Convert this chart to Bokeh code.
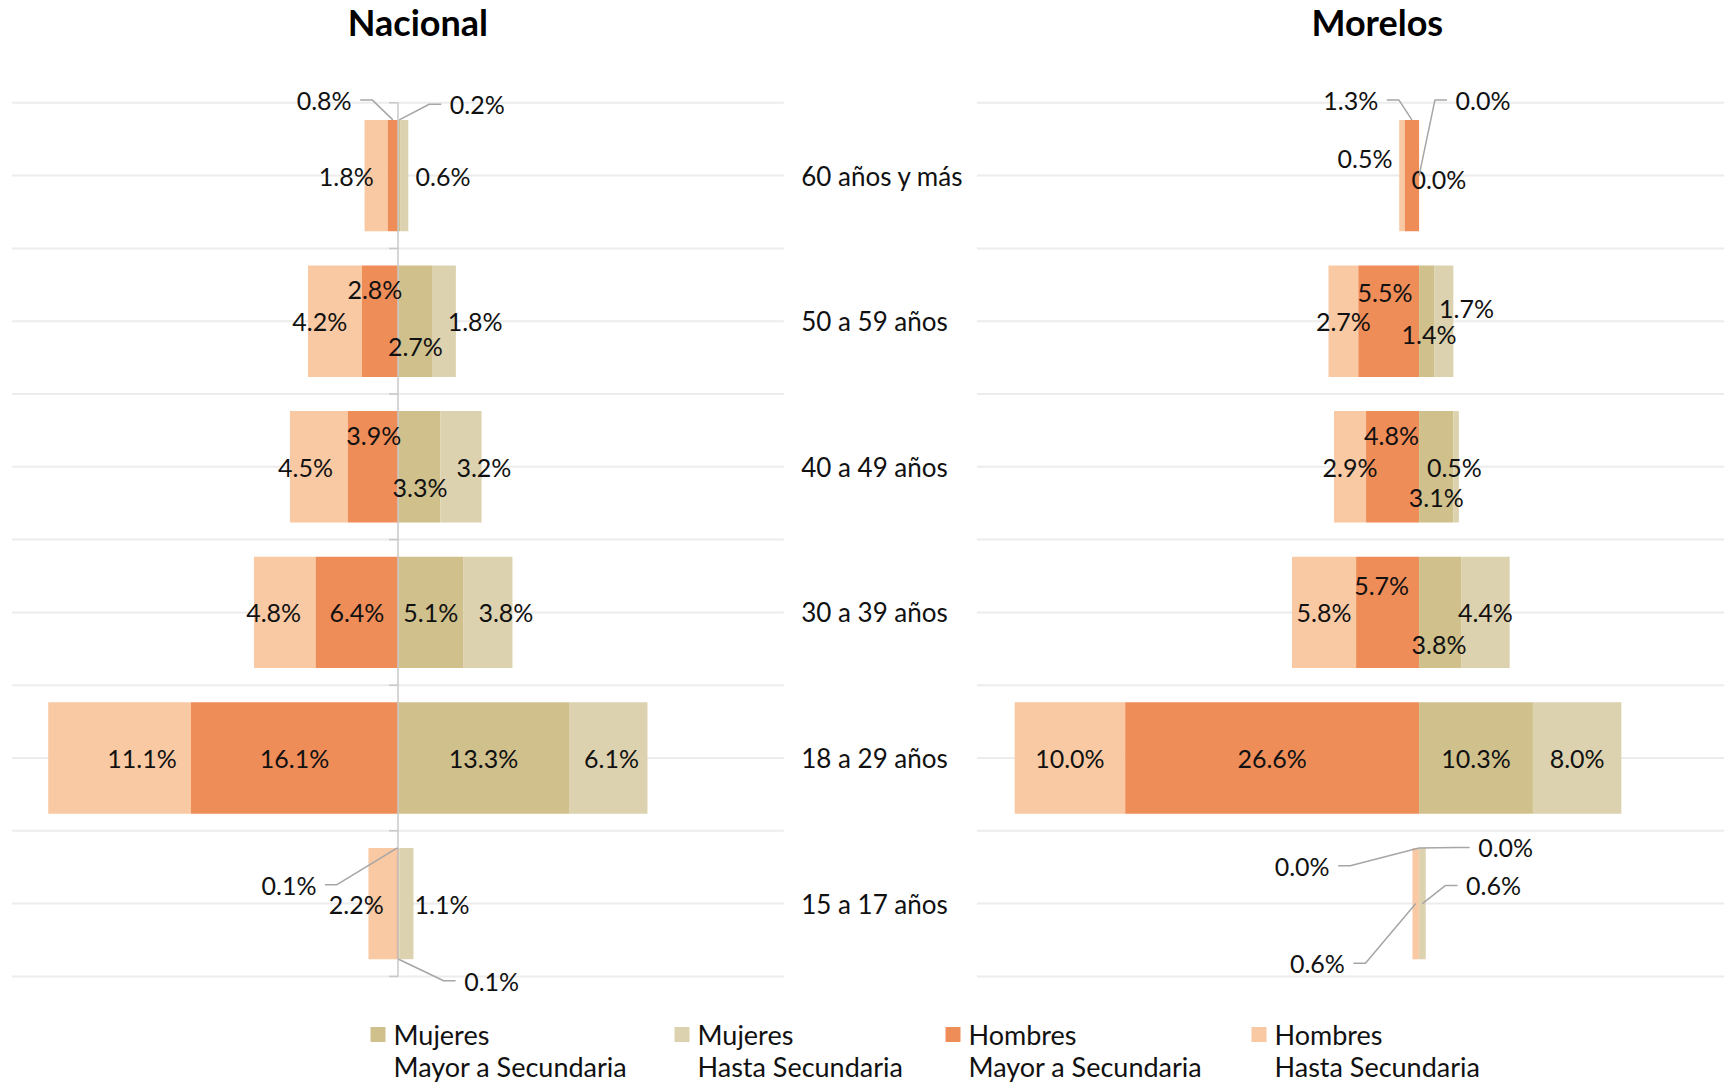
import numpy as np
from bokeh.plotting import figure
from bokeh.models import Range1d, ColumnDataSource
from bokeh.embed import file_html
from bokeh.resources import INLINE
from bokeh.core.properties import value

# ---------------- data ----------------
categories = ["15 a 17 años", "18 a 29 años", "30 a 39 años",
              "40 a 49 años", "50 a 59 años", "60 años y más"]

nac_hombres_hasta = [2.2, 11.1, 4.8, 4.5, 4.2, 1.8]
nac_hombres_mayor = [0.1, 16.1, 6.4, 3.9, 2.8, 0.8]
nac_mujeres_mayor = [0.1, 13.3, 5.1, 3.3, 2.7, 0.2]
nac_mujeres_hasta = [1.1, 6.1, 3.8, 3.2, 1.8, 0.6]

mor_hombres_hasta = [0.6, 10.0, 5.8, 2.9, 2.7, 0.5]
mor_hombres_mayor = [0.0, 26.6, 5.7, 4.8, 5.5, 1.3]
mor_mujeres_mayor = [0.0, 10.3, 3.8, 3.1, 1.4, 0.0]
mor_mujeres_hasta = [0.6, 8.0, 4.4, 0.5, 1.7, 0.0]

panel_titles = {"nac": "Nacional", "mor": "Morelos"}
legend_keys = ["mm", "mh", "hm", "hh"]
legend_line1 = ["Mujeres", "Mujeres", "Hombres", "Hombres"]
legend_line2 = ["Mayor a Secundaria", "Hasta Secundaria",
                "Mayor a Secundaria", "Hasta Secundaria"]

# ---------------- layout / style ----------------
W, H = 1724, 1084
NAC_PX = 12.86     # px per percentage point (Nacional)
MOR_PX = 11.05     # px per percentage point (Morelos)
CAT_PX = 145.6     # px per category band
NAC_ZERO = 397.5   # frame x of Nacional zero
MOR_ZERO = 1418.6  # frame x of Morelos zero
TOP_Y = 175.1      # frame y of top category centre
BAR_H = 0.765

COLORS = {"hh": "#F9C9A4", "hm": "#EF8D59", "mm": "#CFC08C", "mh": "#DDD2AF"}
FONT = "Lato"
TXT = "#111111"

# legend placement (frame pixels)
LEG_X = [370, 674, 945, 1251]
LEG_Y1, LEG_Y2 = 1034, 1066
LEG_SQ = 15
LEG_TXT_DX = 23

# label shifts (dx in percentage points, dy in category bands), bottom -> top
LABEL_SHIFT = {
    ("nac", "hh"): ([-2.05, 1.75, -0.87, -1.04, -1.18, -2.32], [0, 0, 0, 0, 0, 0]),
    ("nac", "hm"): ([-8.43, 0, 0, 0.07, -0.4, -5.34], [0.13, 0, 0, 0.22, 0.22, 0.52]),
    ("nac", "mm"): ([7.23, 0, 0, 0.06, 0, 6.06], [-0.53, 0, 0, -0.14, -0.17, 0.49]),
    ("nac", "mh"): ([2.77, 0.25, 1.39, 1.78, 2.4, 3.0], [0, 0, 0, 0, 0, 0]),
    ("mor", "hh"): ([-8.9, 0, 0, 0, 0, -3.34], [-0.41, 0, 0, 0, 0, 0.12]),
    ("mor", "hm"): ([-10.58, 0, -0.54, -0.1, -0.34, -5.53], [0.26, 0, 0.19, 0.22, 0.2, 0.52]),
    ("mor", "mm"): ([7.83, 0, -0.1, 0, 0.2, 5.78], [0.386, 0, -0.22, -0.21, -0.09, 0.52]),
    ("mor", "mh"): ([6.44, 0, 0, -0.16, 2.04, 1.79], [0.125, 0, 0, 0, 0.09, -0.02]),
}
LEADERS = [("nac", "hm", 5, "top"), ("nac", "mm", 5, "top"),
           ("nac", "hm", 0, "top"), ("nac", "mm", 0, "bottom"),
           ("mor", "hm", 5, "top"), ("mor", "mm", 5, "mid"),
           ("mor", "hm", 0, "top"), ("mor", "mm", 0, "top"),
           ("mor", "mh", 0, "mid"), ("mor", "hh", 0, "mid")]

y_start = 5 - (H - TOP_Y) / CAT_PX
y_end = 5 + TOP_Y / CAT_PX

p = figure(width=W, height=H, output_backend="svg", toolbar_location=None,
           x_range=Range1d(-NAC_ZERO / NAC_PX, (W - NAC_ZERO) / NAC_PX),
           y_range=Range1d(y_start, y_end),
           x_axis_location=None, y_axis_location=None,
           min_border=0, outline_line_color=None, title=None)
p.extra_x_ranges = {"mor": Range1d(-MOR_ZERO / MOR_PX, (W - MOR_ZERO) / MOR_PX),
                    "px": Range1d(0, W)}
p.extra_y_ranges = {"px": Range1d(H, 0)}
p.grid.visible = False

y_idx = np.arange(len(categories), dtype=float)
grid_y = np.arange(-0.5, len(categories) - 0.5 + 0.01, 0.5)

panels = {
    "nac": dict(hh=nac_hombres_hasta, hm=nac_hombres_mayor, mm=nac_mujeres_mayor,
                mh=nac_mujeres_hasta, rng="default", px=NAC_PX, grid=(-30, 30)),
    "mor": dict(hh=mor_hombres_hasta, hm=mor_hombres_mayor, mm=mor_mujeres_mayor,
                mh=mor_mujeres_hasta, rng="mor", px=MOR_PX, grid=(-40, 30)),
}

for pk, d in panels.items():
    rng = d["rng"]
    g0, g1 = d["grid"]
    p.segment(x0=[g0] * len(grid_y), x1=[g1] * len(grid_y), y0=grid_y, y1=grid_y,
              line_color="#ECECEC", line_width=2, x_range_name=rng)
    hh, hm, mm, mh = (np.array(d[k], dtype=float) for k in ("hh", "hm", "mm", "mh"))
    segs = {"hh": (-(hm + hh), -hm), "hm": (-hm, 0 * hm),
            "mm": (0 * mm, mm), "mh": (mm, mm + mh)}
    vals = {"hh": hh, "hm": hm, "mm": mm, "mh": mh}
    centers = {}
    for key, (l, r) in segs.items():
        src = ColumnDataSource(dict(y=y_idx, left=l, right=r))
        p.hbar(y="y", left="left", right="right", height=BAR_H, source=src,
               fill_color=COLORS[key], line_color=None, x_range_name=rng)
        centers[key] = (l + r) / 2
    if pk == "nac":
        p.segment(x0=[0], x1=[0], y0=[-0.5], y1=[len(categories) - 0.5],
                  line_color="#C8C8C8", line_width=1.5, x_range_name=rng)
        by = np.arange(-0.5, len(categories) - 0.5 + 0.01, 1.0)
        p.segment(x0=[-9 / d["px"]] * len(by), x1=[0] * len(by), y0=by, y1=by,
                  line_color="#C8C8C8", line_width=1.5, x_range_name=rng)
    lab = {}
    for key in ("hh", "hm", "mm", "mh"):
        dx, dy = LABEL_SHIFT[(pk, key)]
        lx = centers[key] + np.array(dx)
        ly = y_idx + np.array(dy)
        txt = [f"{v:.1f}%" for v in vals[key]]
        p.text(x=lx, y=ly, text=txt, text_align="center", text_baseline="middle",
               text_font=value(FONT), text_font_size="25px", text_color=TXT,
               x_range_name=rng)
        lab[key] = (lx, ly)
    d["lab"] = lab
    d["centers"] = centers

# leader lines
for pk, key, i, anchor in LEADERS:
    d = panels[pk]
    px = d["px"]
    ax = d["centers"][key][i]
    ay = i + {"top": BAR_H / 2, "mid": 0.0, "bottom": -BAR_H / 2}[anchor]
    lx = d["lab"][key][0][i]
    ly = d["lab"][key][1][i]
    sgn = 1 if lx < ax else -1
    end_x = lx + sgn * 36 / px
    elb_x = end_x + sgn * 12 / px
    p.line(x=[ax, elb_x, end_x], y=[ay, ly, ly], line_color="#A6A6A6", line_width=1.5,
           x_range_name=d["rng"])

# category labels in the middle
p.text(x=[31.35] * len(categories), y=y_idx, text=categories, text_align="left",
       text_baseline="middle", text_font=value(FONT), text_font_size="26px",
       text_color=TXT)

# panel titles
p.text(x=[1.55], y=[6.052], text=[panel_titles["nac"]], text_align="center",
       text_baseline="middle", text_font=value(FONT), text_font_size="36px",
       text_font_style="bold", text_color="#000000")
p.text(x=[-3.78], y=[6.052], text=[panel_titles["mor"]], text_align="center",
       text_baseline="middle", text_font=value(FONT), text_font_size="36px",
       text_font_style="bold", text_color="#000000", x_range_name="mor")

# legend (swatches + two-line labels)
lx = np.array(LEG_X, dtype=float)
p.rect(x=lx + LEG_SQ / 2, y=[LEG_Y1] * 4, width=LEG_SQ, height=LEG_SQ,
       fill_color=[COLORS[k] for k in legend_keys], line_color=None,
       x_range_name="px", y_range_name="px")
p.text(x=lx + LEG_TXT_DX, y=[LEG_Y1] * 4, text=legend_line1, text_align="left",
       text_baseline="middle", text_font=value(FONT), text_font_size="27px",
       text_color=TXT, x_range_name="px", y_range_name="px")
p.text(x=lx + LEG_TXT_DX, y=[LEG_Y2] * 4, text=legend_line2, text_align="left",
       text_baseline="middle", text_font=value(FONT), text_font_size="27px",
       text_color=TXT, x_range_name="px", y_range_name="px")

open("out.html", "w").write(file_html(p, INLINE))
